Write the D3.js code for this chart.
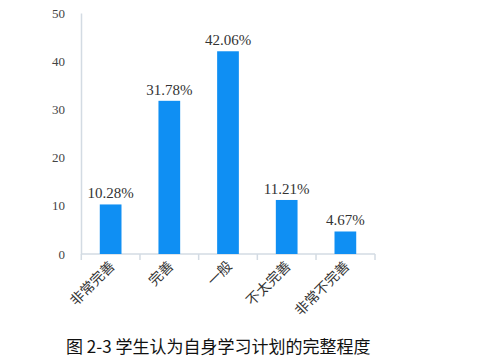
<!DOCTYPE html>
<html>
<head>
<meta charset="utf-8">
<script src="https://cdn.jsdelivr.net/npm/d3@7"></script>
<style>
  body { margin: 0; background: #fff; }
  svg { display: block; }
</style>
</head>
<body>
<svg id="chart" width="486" height="363"></svg>
<script>
const categories = ["非常完善", "完善", "一般", "不太完善", "非常不完善"];
const values = [10.28, 31.78, 42.06, 11.21, 4.67];
const yTicks = [0, 10, 20, 30, 40, 50];
const caption = "图 2-3 学生认为自身学习计划的完整程度";

const margin = { left: 81, right: 111, top: 13, bottom: 109 };
const width = 486, height = 363;

const svg = d3.select("#chart");

const x = d3.scaleBand()
  .domain(categories)
  .range([margin.left, width - margin.right])
  .paddingInner(0.63)
  .paddingOuter(0.32);

const y = d3.scaleLinear()
  .domain([0, 50])
  .range([height - margin.bottom, margin.top]);

const axisColor = "#d3dbe3";

// y axis: line and labels, no ticks
const yAxis = svg.append("g")
  .attr("transform", `translate(${margin.left},0)`)
  .call(d3.axisLeft(y).tickValues(yTicks).tickSize(0).tickPadding(16));
yAxis.select(".domain").attr("stroke", axisColor).attr("stroke-width", 1.5);
yAxis.selectAll("text")
  .attr("font-family", "Liberation Serif, serif")
  .attr("font-size", 13)
  .attr("fill", "#444");

// x axis line with ticks on band edges
const xBase = y(0);
const edges = d3.range(categories.length + 1).map((i) =>
  i < categories.length ? x(categories[i]) - x.step() * x.paddingInner() / 2 : width - margin.right);
svg.append("line")
  .attr("x1", margin.left).attr("x2", width - margin.right)
  .attr("y1", xBase).attr("y2", xBase)
  .attr("stroke", axisColor).attr("stroke-width", 1.5);
svg.append("g").selectAll("line")
  .data(edges)
  .join("line")
  .attr("x1", (d) => d).attr("x2", (d) => d)
  .attr("y1", xBase).attr("y2", xBase + 6)
  .attr("stroke", axisColor).attr("stroke-width", 1.5);

// bars
svg.append("g").selectAll("rect")
  .data(values)
  .join("rect")
  .attr("x", (d, i) => x(categories[i]))
  .attr("width", x.bandwidth())
  .attr("y", (d) => y(d))
  .attr("height", (d) => y(0) - y(d))
  .attr("fill", "#0f8ff3");

// value labels
svg.append("g").selectAll("text")
  .data(values)
  .join("text")
  .attr("x", (d, i) => x(categories[i]) + x.bandwidth() / 2)
  .attr("y", (d) => y(d) - 6)
  .attr("text-anchor", "middle")
  .attr("font-family", "Liberation Serif, serif")
  .attr("font-size", 15)
  .attr("fill", "#333")
  .text((d) => d.toFixed(2) + "%");

// category labels, rotated
svg.append("g").selectAll("text")
  .data(categories)
  .join("text")
  .attr("transform", (d) => `translate(${x(d) + x.bandwidth() / 2 + 5},${xBase + 13}) rotate(-45)`)
  .attr("text-anchor", "end")
  .attr("font-family", "Noto Sans CJK SC, sans-serif")
  .attr("font-size", 14)
  .attr("fill", "#333")
  .text((d) => d);

// caption
svg.append("text")
  .attr("x", 66)
  .attr("y", 353)
  .attr("font-family", "Noto Sans CJK SC, sans-serif")
  .attr("font-size", 17)
  .attr("fill", "#111")
  .text(caption);
</script>
</body>
</html>
